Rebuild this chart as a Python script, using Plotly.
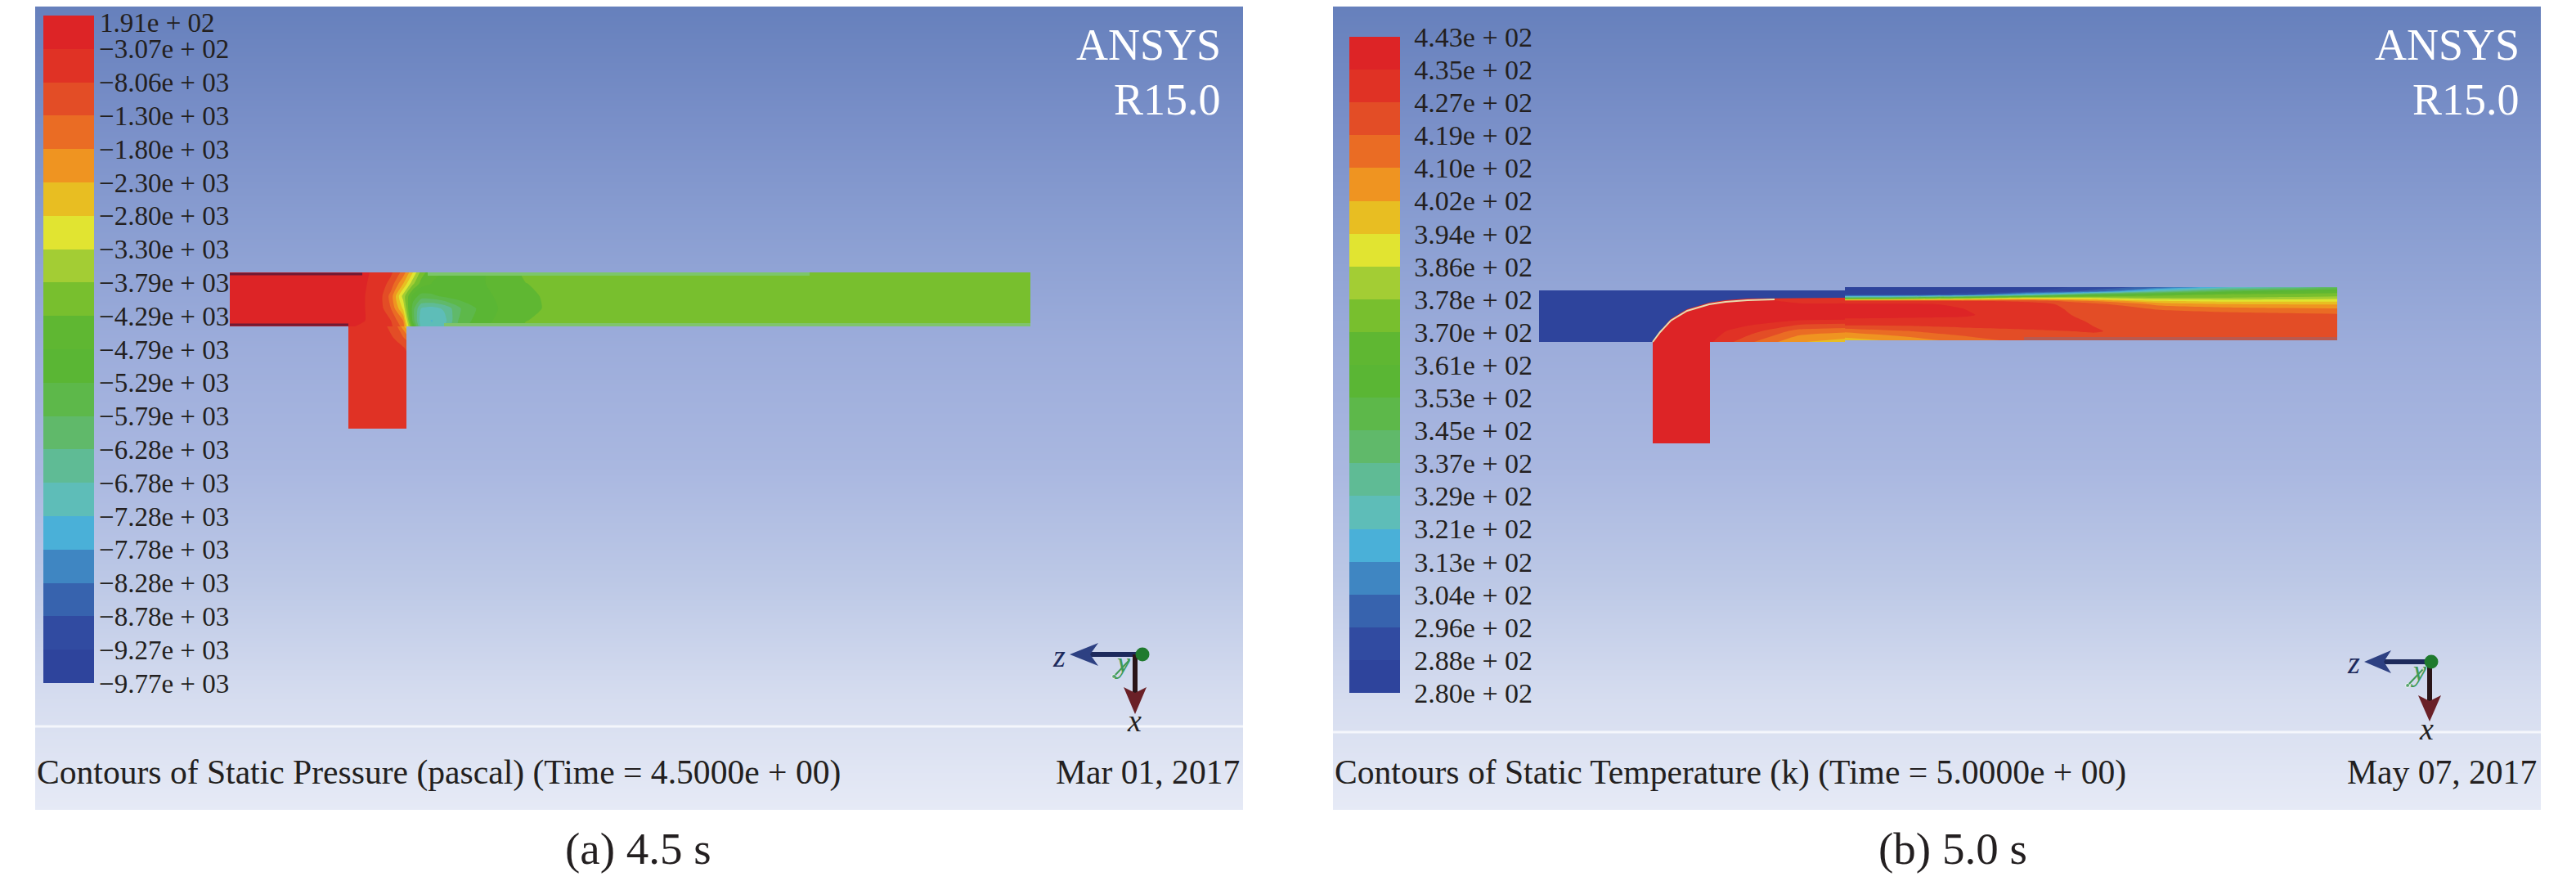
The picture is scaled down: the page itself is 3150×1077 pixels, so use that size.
import plotly.graph_objects as go

W, H = 3150, 1077
# the page body keeps an 8 px margin, so the drawing is a bit smaller than the window
PAD = 8
PW, PH = W - 2 * PAD, H - 2 * PAD

# colour bands of the legend, top to bottom
band_colors = ['#DD2426', '#E03225', '#E34D26', '#EA6C24', '#EF9421', '#E8BE22', '#E1E431',
               '#A3CD34', '#78BF2E', '#5FB732', '#5AB634', '#5DB84A', '#60B96A', '#5FBB95',
               '#5EBDB8', '#4AB0D8', '#3F86C2', '#3763AE', '#314BA1', '#2E449C']

pressure_levels = [191, -307, -805, -1303, -1801, -2299, -2797, -3295, -3793, -4291, -4790,
                   -5288, -5786, -6284, -6782, -7280, -7778, -8276, -8774, -9272, -9770]
pressure_labels = ['1.91e + 02', '−3.07e + 02', '−8.06e + 03', '−1.30e + 03', '−1.80e + 03',
                   '−2.30e + 03', '−2.80e + 03', '−3.30e + 03', '−3.79e + 03', '−4.29e + 03',
                   '−4.79e + 03', '−5.29e + 03', '−5.79e + 03', '−6.28e + 03', '−6.78e + 03',
                   '−7.28e + 03', '−7.78e + 03', '−8.28e + 03', '−8.78e + 03', '−9.27e + 03',
                   '−9.77e + 03']
temp_levels = [443, 434.85, 426.7, 418.55, 410.4, 402.25, 394.1, 385.95, 377.8, 369.65, 361.5,
               353.35, 345.2, 337.05, 328.9, 320.75, 312.6, 304.45, 296.3, 288.15, 280]
temp_labels = ['4.43e + 02', '4.35e + 02', '4.27e + 02', '4.19e + 02', '4.10e + 02', '4.02e + 02',
               '3.94e + 02', '3.86e + 02', '3.78e + 02', '3.70e + 02', '3.61e + 02', '3.53e + 02',
               '3.45e + 02', '3.37e + 02', '3.29e + 02', '3.21e + 02', '3.13e + 02', '3.04e + 02',
               '2.96e + 02', '2.88e + 02', '2.80e + 02']

# window background, panel height in pixels
bg_y = [0, 140, 281, 421, 562, 702, 843, 983]
bg_shade = [0, 1, 2, 3, 4, 5, 6, 7]
bg_colors = ['#6680BC', '#798FC8', '#8B9FD2', '#9DADDB', '#A9B7E0', '#BCC8E6', '#D5DCEF', '#E6EAF6']

# (a) static pressure, main pipe
a_pipe_x = [238, 390, 420, 435, 450, 462, 472, 485, 500, 520, 550, 600, 700, 1217]
a_pipe_y = [326, 340, 355, 370, 385, 392]
a_pipe_z = [
    [-100, -150, -400, -700, -1500, -2800, -4000, -4700, -4800, -4800, -4800, -4200, -4000, -4000],
    [-100, -150, -450, -1000, -2300, -3700, -4500, -4800, -4900, -4900, -4800, -4300, -4000, -4000],
    [-100, -150, -500, -1500, -3500, -5000, -5500, -5400, -5200, -5000, -4900, -4350, -4000, -4000],
    [-100, -150, -500, -1300, -2900, -5600, -6800, -7000, -6700, -5800, -5000, -4350, -4050, -4000],
    [-100, -150, -500, -800, -1800, -5500, -7100, -7300, -7000, -5600, -4900, -4300, -4000, -4000],
    [-100, -300, -500, -700, -1500, -4800, -7000, -7200, -6800, -5500, -4800, -4250, -4000, -4000],
]
# (a) branch
a_branch_x = [383, 407, 427, 442, 454]
a_branch_y = [392, 405, 418, 438, 517]
a_branch_z = [
    [-300, -450, -700, -1200, -2600],
    [-350, -500, -600, -900, -1500],
    [-400, -500, -550, -650, -850],
    [-500, -520, -550, -600, -650],
    [-550, -550, -560, -560, -570],
]

# (b) static temperature, bend region
b_bend_x = [391, 461, 510, 570, 626]
b_bend_y = [348, 358, 368, 383, 398, 411]
b_bend_z = [
    [440, 440, 440, 440, 438],
    [440, 440, 436, 432, 432],
    [440, 440, 437, 437, 437],
    [440, 440, 440, 437, 436],
    [440, 438, 430, 415, 412],
    [440, 436, 420, 403, 398],
]
# (b) outlet part of the pipe
b_pipe_x = [626, 700, 770, 850, 930, 1010, 1090, 1170, 1228]
b_pipe_y = [344, 349, 353, 357, 361, 365, 371, 378, 388, 398, 409]
b_pipe_z = [
    [285, 285, 285, 285, 290, 300, 320, 330, 340],
    [285, 285, 285, 288, 300, 330, 350, 360, 365],
    [285, 285, 292, 320, 350, 365, 370, 372, 373],
    [340, 350, 365, 385, 385, 378, 378, 380, 382],
    [430, 430, 428, 425, 410, 395, 392, 392, 392],
    [436, 436, 434, 430, 422, 408, 403, 402, 402],
    [437, 437, 435, 430, 424, 418, 415, 413, 412],
    [437, 437, 436, 430, 425, 423, 422, 421, 420],
    [432, 431, 431, 429, 426.5, 426, 425, 424, 424],
    [412, 418, 423, 426, 427, 425, 425, 425, 425],
    [398, 405, 414, 422, 425, 425, 425, 425, 425],
]
# (b) branch
b_branch_x = [391, 426, 461]
b_branch_y = [411, 470, 535]
b_branch_z = [
    [440, 439, 436],
    [440, 439, 438],
    [439, 439, 438],
]
# (b) cold fluid in the inlet pipe
b_cold_x = [252, 626, 626, 507, 480, 460, 433, 413, 400, 391, 252]
b_cold_y = [348, 348, 357, 358, 360, 363, 371, 383, 398, 411, 411]
b_rim_x = [540, 507, 480, 460, 433, 413, 400, 391]
b_rim_y = [359, 360, 362, 365, 373, 385, 399, 411]

rev = band_colors[::-1]
stepped = []
for i, c in enumerate(rev):
    stepped.append([i / 20, c])
    stepped.append([(i + 1) / 20, c])


def px(x):
    return (x - PAD) / PW


def py(y):
    return 1 - (y - PAD) / PH


def add_field(fig, x, y, z, levels, col, bar=None):
    fig.add_trace(go.Contour(
        x=x, y=y, z=z, zauto=False, zmin=levels[-1], zmax=levels[0], colorscale=stepped,
        autocontour=False,
        contours=dict(start=levels[-1], end=levels[0], size=(levels[0] - levels[-1]) / 20,
                      coloring='fill', showlines=False),
        line=dict(width=0, smoothing=0.6), hoverinfo='skip',
        showscale=bar is not None, colorbar=bar), row=1, col=col)


def make_bar(left, top, bottom, levels, labels, fontsize, gap):
    return dict(x=px(left), xanchor='left', xpad=0, y=py(top), yanchor='top', ypad=0,
                len=(bottom - top) / PH, lenmode='fraction', thickness=62, thicknessmode='pixels',
                outlinewidth=0, tickmode='array', tickvals=levels, ticktext=labels,
                ticks='outside', ticklen=gap, tickcolor='rgba(0,0,0,0)',
                tickfont=dict(family='Liberation Serif', size=fontsize, color='#231F20'))


def edge(fig, x, y, color, width, col):
    fig.add_trace(go.Scatter(x=x, y=y, mode='lines', line=dict(color=color, width=width),
                             hoverinfo='skip'), row=1, col=col)


def add_triad(fig, col, ox, oy, sx, head_z, head_x, rim):
    edge(fig, [head_z[2], ox], [oy, oy], '#1D2A5C', 6, col)
    edge(fig, [sx, sx], [oy, head_x[2]], '#2A1518', 6, col)
    fig.add_trace(go.Scatter(x=[head_z[0], head_z[1], head_z[2], head_z[1], head_z[0]],
                             y=[oy, oy - 14, oy, oy + 14, oy], fill='toself', mode='none',
                             fillcolor='#2D4082', hoverinfo='skip'), row=1, col=col)
    fig.add_trace(go.Scatter(x=[sx, sx - 14, sx, sx + 14, sx],
                             y=[head_x[0], head_x[1], head_x[2], head_x[1], head_x[0]],
                             fill='toself', mode='none', fillcolor='#6A2027', hoverinfo='skip'), row=1, col=col)
    fig.add_trace(go.Scatter(x=rim[0], y=rim[1], mode='lines+markers',
                             line=dict(color='#3F9A55', width=2),
                             marker=dict(color='#3F9A55', size=[5, 1]), hoverinfo='skip'), row=1, col=col)
    fig.add_trace(go.Scatter(x=[ox], y=[oy], mode='markers', marker=dict(color='#1F7A2E', size=17),
                             hoverinfo='skip'), row=1, col=col)


fig = go.Figure()
fig.set_subplots(rows=1, cols=2)

for col in (1, 2):
    fig.add_trace(go.Heatmap(x=[0, 1477], y=bg_y, z=[[s, s] for s in bg_shade], zsmooth='best',
                             colorscale=[[i / 7, c] for i, c in enumerate(bg_colors)], zmin=0, zmax=7,
                             showscale=False, hoverinfo='skip'), row=1, col=col)

# the top label sits too close to the page edge for a colorbar tick, it is added as a note below
add_field(fig, a_pipe_x, a_pipe_y, a_pipe_z, pressure_levels, 1,
          make_bar(53, 19, 835, pressure_levels[1:], pressure_labels[1:], 33, 0))
add_field(fig, a_branch_x, a_branch_y, a_branch_z, pressure_levels, 1)
edge(fig, [238, 383], [390, 390], '#6E1A35', 3, 1)
edge(fig, [238, 400], [328, 328], '#6E1A35', 3, 1)
edge(fig, [480, 947], [328, 328], '#7CC66A', 4, 1)
edge(fig, [500, 1217], [390, 390], '#7FC46C', 4, 1)

add_field(fig, b_bend_x, b_bend_y, b_bend_z, temp_levels, 2,
          make_bar(1650, 45, 847, temp_levels, temp_labels, 34, 11))
add_field(fig, b_pipe_x, b_pipe_y, b_pipe_z, temp_levels, 2)
add_field(fig, b_branch_x, b_branch_y, b_branch_z, temp_levels, 2)
fig.add_trace(go.Scatter(x=b_cold_x, y=b_cold_y, fill='toself', mode='none', fillcolor='#2E449C',
                         hoverinfo='skip'), row=1, col=2)
edge(fig, b_rim_x, b_rim_y, '#E8DDB0', 2, 2)
edge(fig, [845, 1228], [407, 407], '#B85A50', 4, 2)

# separator above the caption strip
edge(fig, [0, 1477], [881, 881], '#F4F6FC', 3, 1)
edge(fig, [0, 1477], [888, 888], '#F4F6FC', 3, 2)

add_triad(fig, 1, 1354, 793, 1345, (1265, 1300, 1290), (866, 833, 840), ([1319, 1338], [820, 800]))
add_triad(fig, 2, 1343, 802, 1341, (1261, 1294, 1285), (875, 843, 850), ([1314, 1333], [831, 811]))


def note(text, x, y, size, color='#231F20', anchor='left', italic=False):
    fig.add_annotation(text=text, x=px(x), y=py(y), xref='paper', yref='paper', showarrow=False,
                       xanchor=anchor, yanchor='middle',
                       font=dict(family='Liberation Serif', size=size, color=color,
                                 style='italic' if italic else 'normal'))


note(pressure_labels[0], 120, 28, 33)
for right in (1495, 3083):
    note('ANSYS', right, 55, 54, '#FFFFFF', 'right')
    note('R15.0', right, 122, 54, '#FFFFFF', 'right')
note('Contours of Static Pressure (pascal) (Time = 4.5000e + 00)', 43, 944, 41.6)
note('Mar 01, 2017', 1518, 944, 41.6, anchor='right')
note('Contours of Static Temperature (k) (Time = 5.0000e + 00)', 1630, 944, 41.6)
note('May 07, 2017', 3104, 944, 41.6, anchor='right')
note('(a) 4.5 s', 780, 1037, 55, anchor='center')
note('(b) 5.0 s', 2388, 1037, 55, anchor='center')
note('z', 1295, 802, 38, '#1D2A5C', 'center', True)
note('x', 1387, 881, 38, '#231F20', 'center', True)
note('y', 1372, 810, 36, '#3F9A55', 'center', True)
note('z', 2878, 810, 38, '#1D2A5C', 'center', True)
note('x', 2967, 891, 38, '#231F20', 'center', True)
note('y', 2957, 820, 36, '#3F9A55', 'center', True)

fig.update_layout(width=PW, height=PH, margin=dict(l=0, r=0, t=0, b=0), paper_bgcolor='white',
                  plot_bgcolor='white', showlegend=False)
fig.update_xaxes(visible=False, range=[0, 1477])
fig.update_yaxes(visible=False, range=[983, 1])
fig.layout.xaxis.domain = [px(43), px(1520)]
fig.layout.xaxis2.domain = [px(1630), px(3107)]
for ax in (fig.layout.yaxis, fig.layout.yaxis2):
    ax.domain = [py(990), 1]

fig.write_html("out.html")
